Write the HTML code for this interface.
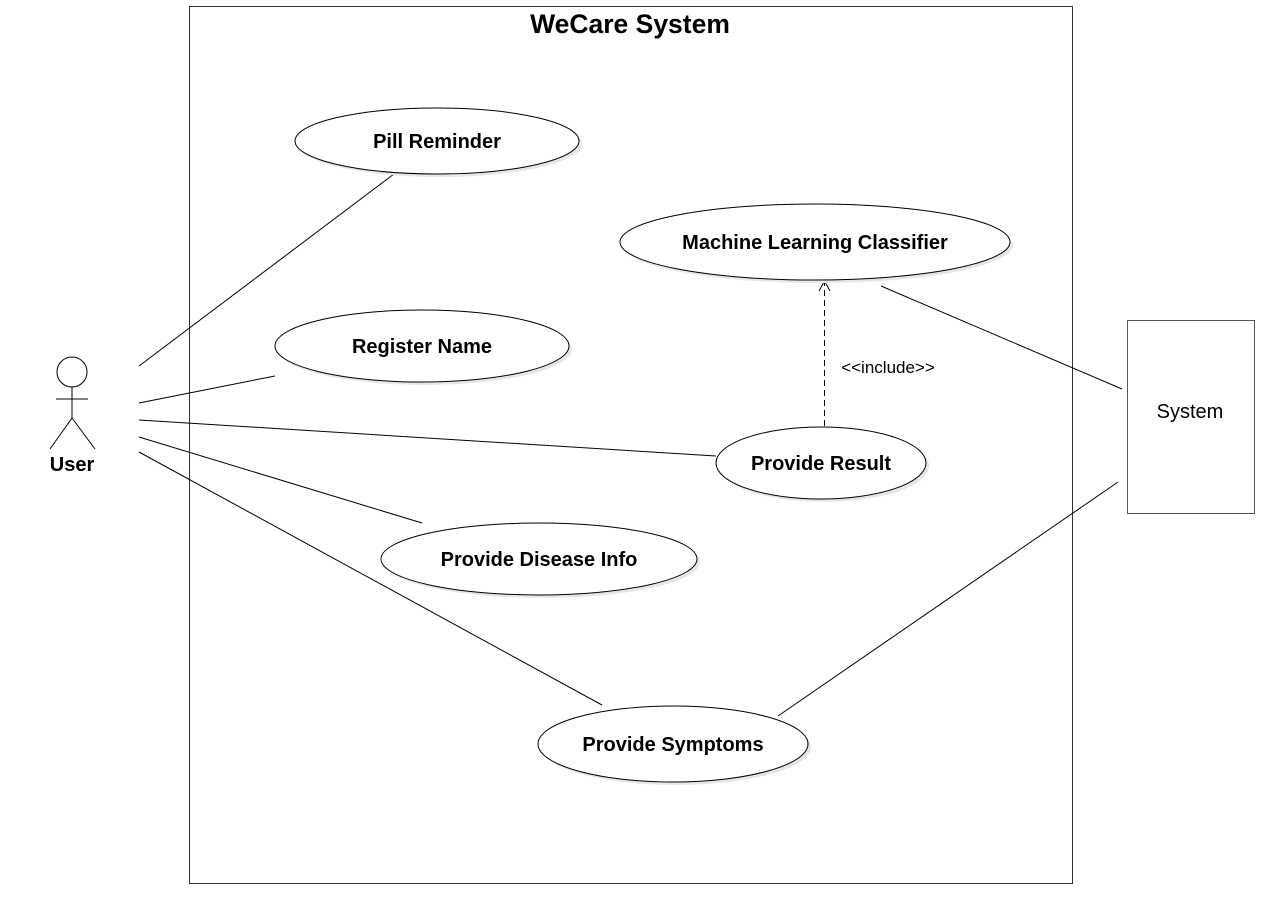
<!DOCTYPE html>
<html><head><meta charset="utf-8"><style>html,body{margin:0;padding:0;background:#fff}svg{display:block}</style></head>
<body>
<svg width="1280" height="909" xmlns="http://www.w3.org/2000/svg" font-family="Liberation Sans, Arial, sans-serif">
<rect x="189.5" y="6.5" width="883" height="877" fill="#fff" stroke="#333" stroke-width="1"/>
<text x="630" y="33" font-size="26.5" font-weight="bold" text-anchor="middle">WeCare System</text>
<g stroke="#000" stroke-width="1" fill="none">
<line x1="139" y1="366" x2="394" y2="174"/>
<line x1="139" y1="403" x2="275" y2="376"/>
<line x1="139" y1="420" x2="716" y2="456"/>
<line x1="139" y1="437" x2="422" y2="523"/>
<line x1="139" y1="452" x2="602" y2="705"/>
<line x1="881" y1="286" x2="1122" y2="389"/>
<line x1="778" y1="716" x2="1118" y2="482"/>
<line x1="824.5" y1="426" x2="824.5" y2="282" stroke-dasharray="6,4"/>
<polyline points="819,291 824.5,281 830,291"/>
</g>
<g fill="#e6e6e6">
<ellipse cx="440" cy="144" rx="142" ry="33"/>
<ellipse cx="818" cy="245" rx="195" ry="38"/>
<ellipse cx="425" cy="349" rx="147" ry="36"/>
<ellipse cx="824" cy="466" rx="105" ry="36"/>
<ellipse cx="542" cy="562" rx="158" ry="36"/>
<ellipse cx="676" cy="747" rx="135" ry="38"/>
</g>
<g fill="#fff" stroke="#000" stroke-width="1">
<ellipse cx="437" cy="141" rx="142" ry="33"/>
<ellipse cx="815" cy="242" rx="195" ry="38"/>
<ellipse cx="422" cy="346" rx="147" ry="36"/>
<ellipse cx="821" cy="463" rx="105" ry="36"/>
<ellipse cx="539" cy="559" rx="158" ry="36"/>
<ellipse cx="673" cy="744" rx="135" ry="38"/>
<rect x="1127.5" y="320.5" width="127" height="193" stroke="#555"/>
</g>
<g font-size="20" font-weight="bold" text-anchor="middle">
<text x="437" y="148">Pill Reminder</text>
<text x="815" y="249">Machine Learning Classifier</text>
<text x="422" y="353">Register Name</text>
<text x="821" y="470">Provide Result</text>
<text x="539" y="566">Provide Disease Info</text>
<text x="673" y="751">Provide Symptoms</text>
<text x="72" y="471">User</text>
</g>
<text x="1190" y="418" font-size="20" text-anchor="middle">System</text>
<text x="888" y="373" font-size="17" text-anchor="middle">&lt;&lt;include&gt;&gt;</text>
<g stroke="#000" stroke-width="1" fill="none">
<circle cx="72" cy="372" r="15" fill="#fff"/>
<line x1="72" y1="387" x2="72" y2="418"/>
<line x1="56" y1="399" x2="88" y2="399"/>
<line x1="72" y1="418" x2="50" y2="449"/>
<line x1="72" y1="418" x2="95" y2="449"/>
</g>
</svg>
</body></html>
